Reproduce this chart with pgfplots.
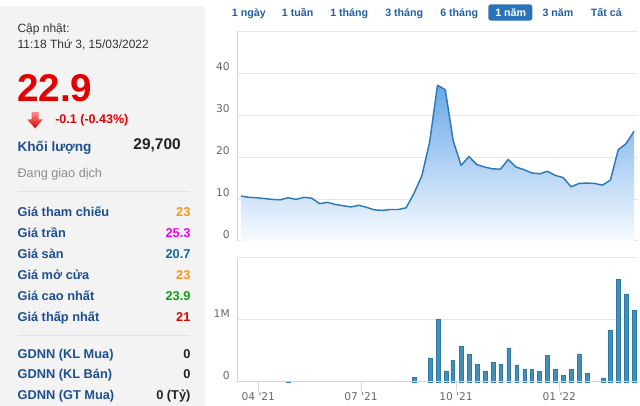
\documentclass[border=0pt]{standalone}
\usepackage{fontspec}
\setmainfont{Liberation Sans}
\newfontfamily\dejavu{DejaVu Sans}[Ligatures=TeXOff]
\usepackage{pgfplots}
\usepackage{pgfplotstable}
\pgfplotsset{compat=1.18}
\definecolor{panelbg}{HTML}{F3F3F3}
\definecolor{sepc}{HTML}{E2E2E2}
\definecolor{vred}{HTML}{E30000}
\definecolor{lblue}{HTML}{1D4F91}
\definecolor{btnblue}{HTML}{1F5FA8}
\definecolor{actblue}{HTML}{2B73B9}
\definecolor{gridgray}{HTML}{E6E6E6}
\definecolor{axisblue}{HTML}{CCD6EB}
\definecolor{ticktext}{HTML}{666666}
\definecolor{pline}{HTML}{2C7BB6}
\definecolor{barblue}{HTML}{4290B9}
\definecolor{baredge}{HTML}{2E7AA6}
\definecolor{vorange}{HTML}{F7941D}
\definecolor{vmag}{HTML}{EE00EE}
\definecolor{vteal}{HTML}{0B6AA1}
\definecolor{vgreen}{HTML}{10A010}
\definecolor{dtext}{HTML}{333333}
\definecolor{gtext}{HTML}{8C8C8C}
\definecolor{ktext}{HTML}{222222}
\definecolor{filltop}{RGB}{104,167,232}
\definecolor{fillbot}{RGB}{248,251,255}

\pgfplotstableread{
x p
241.0 10.7
248.9 10.4
256.7 10.3
264.6 10.1
272.4 9.9
280.3 9.8
288.2 10.3
296.0 9.9
303.9 10.4
311.7 10.2
319.6 8.9
327.5 9.2
335.3 8.7
343.2 8.4
351.0 8.1
358.9 8.5
366.8 8.0
374.6 7.4
382.5 7.3
390.3 7.5
398.2 7.5
406.1 7.9
413.9 11.3
421.8 15.5
429.6 23.5
437.5 37.1
445.3 36.0
453.2 23.9
461.1 18.0
468.9 20.1
476.8 18.2
484.6 17.6
492.5 17.2
500.4 17.1
508.2 19.4
516.1 17.6
523.9 17.0
531.8 16.2
539.7 16.0
547.5 16.6
555.4 15.6
563.2 15.1
571.1 12.9
579.0 13.7
586.8 13.8
594.7 13.7
602.5 13.3
610.4 14.5
618.2 21.7
626.1 23.2
634.0 26.1
}\price

\pgfplotstableread{
x v
288.0 0.01
414.3 0.08
430.0 0.39
438.0 1.02
446.0 0.18
452.7 0.35
461.0 0.57
469.0 0.45
477.0 0.29
485.0 0.17
493.0 0.32
500.7 0.29
508.7 0.55
516.7 0.27
524.7 0.21
531.7 0.20
539.3 0.17
547.3 0.43
555.3 0.20
563.3 0.11
571.3 0.20
579.3 0.45
587.3 0.14
603.0 0.065
610.0 0.84
618.0 1.65
626.0 1.42
634.0 1.15
}\vol

\newcommand{\fs}[1]{\fontsize{#1}{#1}\selectfont}

\begin{document}
\begin{tikzpicture}[x=0.75pt,y=-0.75pt]
\useasboundingbox (0,0) rectangle (640,406);
% left panel
\fill[panelbg] (0,6) rectangle (205,406);
\tikzset{lt/.style={anchor=base west, inner sep=0pt}, rt/.style={anchor=base east, inner sep=0pt}}
\node[lt, text=dtext] at (17.3,33) {\fs{9pt}Cập nhật:};
\node[lt, text=dtext] at (17.3,48.3) {\fs{9pt}11:18 Thứ 3, 15/03/2022};
\node[lt, text=vred] at (16.8,101.7) {\fs{29pt}\bfseries 22.9};
\shade[top color=red!45!white, bottom color=red!85!black] (31.5,112) -- (38.5,112) -- (38.5,119.5) -- (42.7,119.5) -- (35,128.3) -- (27.3,119.5) -- (31.5,119.5) -- cycle;
\node[lt, text=vred] at (55,124) {\fs{9.4pt}\bfseries -0.1 (-0.43\%)};
\node[lt, text=lblue] at (17.3,151.7) {\fs{10.2pt}\bfseries Khối lượng};
\node[rt, text=ktext] at (181,150) {\fs{11.6pt}\bfseries 29,700};
\node[lt, text=gtext] at (17.3,177.3) {\fs{9.5pt}Đang giao dịch};
\draw[sepc, line width=0.75pt] (17,191.7) -- (190,191.7);
\node[lt, text=lblue] at (17.3,216.7) {\fs{9.6pt}\bfseries Giá tham chiếu};
\node[rt, text=vorange] at (190.7,216.7) {\fs{9.6pt}\bfseries 23};
\node[lt, text=lblue] at (17.3,237.7) {\fs{9.6pt}\bfseries Giá trần};
\node[rt, text=vmag] at (190.7,237.7) {\fs{9.6pt}\bfseries 25.3};
\node[lt, text=lblue] at (17.3,258.7) {\fs{9.6pt}\bfseries Giá sàn};
\node[rt, text=vteal] at (190.7,258.7) {\fs{9.6pt}\bfseries 20.7};
\node[lt, text=lblue] at (17.3,279.7) {\fs{9.6pt}\bfseries Giá mở cửa};
\node[rt, text=vorange] at (190.7,279.7) {\fs{9.6pt}\bfseries 23};
\node[lt, text=lblue] at (17.3,300.7) {\fs{9.6pt}\bfseries Giá cao nhất};
\node[rt, text=vgreen] at (190.7,300.7) {\fs{9.6pt}\bfseries 23.9};
\node[lt, text=lblue] at (17.3,321.7) {\fs{9.6pt}\bfseries Giá thấp nhất};
\node[rt, text=vred] at (190.7,321.7) {\fs{9.6pt}\bfseries 21};
\draw[sepc, line width=0.75pt] (17,336) -- (190,336);
\node[lt, text=lblue] at (17.3,358.3) {\fs{9.6pt}\bfseries GDNN (KL Mua)};
\node[rt, text=ktext] at (190.7,358.3) {\fs{9.6pt}\bfseries 0};
\node[lt, text=lblue] at (17.3,378.8) {\fs{9.6pt}\bfseries GDNN (KL Bán)};
\node[rt, text=ktext] at (190.7,378.8) {\fs{9.6pt}\bfseries 0};
\node[lt, text=lblue] at (17.3,399.3) {\fs{9.6pt}\bfseries GDNN (GT Mua)};
\node[rt, text=ktext] at (190.7,399.3) {\fs{9.6pt}\bfseries 0 (Tỷ)};
% range buttons
\fill[actblue, rounded corners=2pt] (488.3,4.3) rectangle (532.3,20.6);
\node[lt, text=btnblue] at (231.7,16.7) {\fs{8pt}\bfseries 1 ngày};
\node[lt, text=btnblue] at (281.7,16.7) {\fs{8pt}\bfseries 1 tuần};
\node[lt, text=btnblue] at (330,16.7) {\fs{8pt}\bfseries 1 tháng};
\node[lt, text=btnblue] at (385,16.7) {\fs{8pt}\bfseries 3 tháng};
\node[lt, text=btnblue] at (440,16.7) {\fs{8pt}\bfseries 6 tháng};
\node[lt, text=white] at (495,16.7) {\fs{8pt}\bfseries 1 năm};
\node[lt, text=btnblue] at (542.3,16.7) {\fs{8pt}\bfseries 3 năm};
\node[lt, text=btnblue] at (590.7,16.7) {\fs{8pt}\bfseries Tất cả};

% price chart
\begin{axis}[at={(177.75pt,-180.75pt)}, anchor=south west, scale only axis,
  width=300.75pt, height=157.5pt, xmin=237, xmax=638, ymin=0, ymax=50,
  xtick=\empty, ytick={0,10,20,30,40,50}, yticklabels={0,10,20,30,40,{}},
  ymajorgrids, grid style={gridgray, line width=0.75pt},
  axis line style={draw=none}, major tick length=0pt,
  yticklabel style={font=\dejavu\fs{8pt}, text=ticktext, anchor=east, inner sep=0pt, xshift=-5.25pt, yshift=4.5pt},
  clip=false]
\addplot[draw=none, shade, top color=filltop, bottom color=fillbot] table[x=x,y=p]{\price} \closedcycle;
\addplot[pline, line width=1.1pt, line join=round, mark=none] table[x=x,y=p]{\price};
\draw[axisblue, line width=0.75pt] (rel axis cs:0,0) -- (rel axis cs:0,1);
\end{axis}

% volume chart
\begin{axis}[at={(177.75pt,-286.5pt)}, anchor=south west, scale only axis,
  width=300.75pt, height=93pt, xmin=237, xmax=638, ymin=0, ymax=2,
  ytick={0,1,2}, yticklabels={0,1M,{}},
  xtick={258.3,361,456,559.3}, xticklabels={04 '21,07 '21,10 '21,01 '22},
  ymajorgrids, grid style={gridgray, line width=0.75pt},
  axis line style={draw=none}, tick pos=left, tick align=outside,
  major tick length=6.75pt,
  xtick style={draw=axisblue, line width=0.75pt}, ytick style={draw=none},
  yticklabel style={font=\dejavu\fs{8pt}, text=ticktext, anchor=east, inner sep=0pt, xshift=1.5pt, yshift=4.5pt},
  xticklabel style={font=\dejavu\fs{8pt}, text=ticktext, anchor=north, inner sep=0pt, yshift=-1.2pt},
  clip=false]
\addplot[ybar, bar width=2.7pt, fill=barblue, draw=baredge, line width=0.3pt] table[x=x,y=v]{\vol};
\draw[axisblue, line width=0.75pt] (rel axis cs:0,0) -- (rel axis cs:1,0);
\draw[axisblue, line width=0.75pt] (rel axis cs:0,0) -- (rel axis cs:0,1);
\end{axis}
\end{tikzpicture}
\end{document}
